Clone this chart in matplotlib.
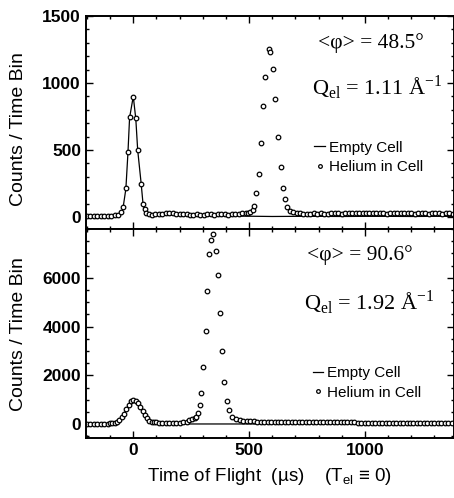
import matplotlib
matplotlib.use("Agg")
import matplotlib.pyplot as plt
from matplotlib.ticker import MultipleLocator

plt.rcParams['font.family'] = ['Liberation Sans', 'DejaVu Sans']
plt.rcParams['mathtext.fontset'] = 'custom'
plt.rcParams['mathtext.rm'] = 'Liberation Serif'
plt.rcParams['mathtext.sf'] = 'Liberation Sans'

# ---- data: top panel, <phi> = 48.5 deg ----
top_empty_t = [-200, -180, -160, -140, -120, -100, -80, -60, -50, -44, -32, -23, -16, 0, 11, 19, 34, 42, 49, 56, 66,
               80, 120, 160, 200, 300, 400, 500, 600, 700, 800, 900, 1000, 1100, 1200, 1300, 1385]
top_empty_c = [5, 6, 5, 6, 5, 6, 8, 15, 30, 70, 210, 480, 740, 900, 730, 500, 250, 100, 50, 25, 15,
               10, 12, 14, 10, 8, 7, 6, 4, 5, 5, 4, 5, 5, 4, 5, 5]

top_he_t = [-200, -185, -170, -155, -140, -125, -110, -95, -80, -65, -55, -44, -32, -23, -16, 0, 11, 19, 34, 42, 49, 56, 66,
            80, 95, 110, 125, 140, 155, 170, 185, 200, 215, 230, 245, 260, 275, 290, 305, 320, 335, 350, 365, 380,
            395, 410, 425, 440, 455, 470, 485, 495, 504, 515, 523, 530, 541, 552, 562, 570, 585, 592, 604, 612,
            625, 636, 645, 654, 664, 677, 690, 705, 720, 735, 750, 765, 780, 795, 810, 825, 840, 855, 870, 885,
            900, 915, 930, 945, 960, 975, 990, 1005, 1020, 1035, 1050, 1065, 1080, 1095, 1110, 1125, 1140, 1155,
            1170, 1185, 1200, 1215, 1230, 1245, 1260, 1275, 1290, 1305, 1320, 1335, 1350, 1365, 1380]
top_he_c = [8, 9, 7, 8, 9, 8, 10, 9, 12, 18, 35, 77, 214, 487, 744, 895, 735, 500, 250, 100, 57, 30, 22,
            18, 20, 22, 25, 30, 33, 30, 26, 22, 20, 19, 18, 17, 20, 18, 16, 20, 22, 18, 20, 22,
            20, 18, 22, 25, 24, 28, 30, 32, 40, 55, 82, 177, 321, 550, 831, 1042, 1250, 1230, 1102, 878,
            600, 375, 214, 132, 77, 47, 35, 30, 28, 25, 26, 24, 27, 25, 28, 26, 25, 30, 27, 28,
            26, 30, 28, 27, 32, 29, 30, 28, 31, 29, 27, 30, 28, 26, 29, 27, 28, 30,
            28, 27, 29, 26, 28, 30, 27, 26, 28, 29, 27, 26, 28, 27, 26]

# ---- data: bottom panel, <phi> = 90.6 deg ----
bot_empty_t = [-200, -150, -110, -90, -80, -70, -60, -50, -40, -30, -20, -10, 0, 10, 20, 30, 40, 50, 60, 70, 80, 90, 100,
               130, 200, 300, 400, 500, 600, 700, 800, 900, 1000, 1100, 1200, 1300, 1385]
bot_empty_c = [10, 10, 15, 35, 55, 95, 165, 275, 425, 610, 790, 910, 960, 930, 830, 680, 510, 350, 230, 140, 85, 55, 35,
               20, 10, 10, 10, 10, 10, 10, 10, 10, 10, 10, 10, 10, 10]

bot_he_t = [-200, -185, -170, -155, -140, -125, -110, -100, -90, -80, -70, -60, -50, -40, -30, -20, -10, 0, 10, 20, 30,
            40, 50, 60, 70, 80, 90, 100, 112, 125, 140, 155, 170, 185, 200, 215, 230, 242, 255, 265, 272, 280, 288,
            294, 302, 312, 320, 328, 336, 344, 356, 366, 374, 382, 392, 404, 414, 428, 445, 460, 475, 490, 505,
            520, 535, 550, 565, 580, 595, 610, 625, 640, 655, 670, 685, 700, 715, 730, 745, 760, 775, 790, 805,
            820, 835, 850, 865, 880, 895, 910, 925, 940, 955, 970, 985, 1000, 1015, 1030, 1045, 1060, 1075, 1090,
            1105, 1120, 1135, 1150, 1165, 1180, 1195, 1210, 1225, 1240, 1255, 1270, 1285, 1300, 1315, 1330, 1345,
            1360, 1375]
bot_he_c = [20, 22, 20, 24, 22, 25, 28, 32, 45, 65, 105, 175, 285, 435, 625, 805, 935, 990, 950, 850, 700,
            530, 370, 240, 150, 105, 85, 75, 70, 65, 62, 60, 62, 65, 70, 80, 100, 160, 220, 260, 300, 450, 800,
            1260, 2350, 3830, 5450, 6980, 7550, 7800, 7100, 6120, 4570, 3010, 1740, 950, 575, 300, 200, 160, 140,
            130, 120, 115, 110, 108, 105, 104, 100, 100, 98, 96, 95, 94, 92, 90, 90, 88, 86, 85, 85, 84, 82,
            80, 80, 78, 78, 76, 75, 75, 74, 72, 72, 70, 70, 68, 68, 67, 66, 65, 65, 64, 63, 62, 62, 61,
            60, 60, 59, 58, 58, 57, 57, 56, 55, 55, 54, 54, 53, 52, 52]

panels = [
    dict(et=top_empty_t, ec=top_empty_c, ht=top_he_t, hc=top_he_c, ylim=(-90, 1500),
         yticks=[0, 500, 1000, 1500], yminor=100, phi="<\u03c6> = 48.5\u00b0", q="1.11"),
    dict(et=bot_empty_t, ec=bot_empty_c, ht=bot_he_t, hc=bot_he_c, ylim=(-575, 8000),
         yticks=[0, 2000, 4000, 6000], yminor=500, phi="<\u03c6> = 90.6\u00b0", q="1.92"),
]

fig = plt.figure(figsize=(4.54, 4.98), dpi=100)
ax_top = fig.add_axes([0.189, 0.540, 0.811, 0.428])
ax_bot = fig.add_axes([0.189, 0.120, 0.811, 0.420], sharex=ax_top)

# text layout per panel: (phi x, phi y, q x, q y, legend x, legend y)
text_pos = [(0.775, 0.873, 0.792, 0.662, 0.60, 0.45),
            (0.745, 0.876, 0.770, 0.646, 0.595, 0.38)]

for ax, p, tp in zip([ax_top, ax_bot], panels, text_pos):
    ax.plot(p['et'], p['ec'], color='black', lw=0.9, label='Empty Cell')
    ax.plot(p['ht'], p['hc'], ls='none', marker='o', ms=3.3, mfc='white', mec='black', mew=0.9,
            label='Helium in Cell')
    ax.set_xlim(-205, 1385)
    ax.set_ylim(*p['ylim'])
    ax.set_yticks(p['yticks'])
    ax.yaxis.set_minor_locator(MultipleLocator(p['yminor']))
    ax.xaxis.set_major_locator(MultipleLocator(500))
    ax.xaxis.set_minor_locator(MultipleLocator(100))
    ax.tick_params(which='both', direction='in', top=True, right=True, width=1.0)
    ax.tick_params(which='major', length=5, labelsize=12.5)
    ax.tick_params(which='minor', length=2.5)
    for lab in ax.get_yticklabels():
        lab.set_fontweight('bold')
    for s in ax.spines.values():
        s.set_linewidth(1.4)
    ax.set_ylabel("Counts / Time Bin", fontsize=14, labelpad=4)
    ax.text(tp[0], tp[1], p['phi'], transform=ax.transAxes, ha='center', va='center',
            fontsize=15.5, family=['Liberation Serif', 'DejaVu Serif'])
    ax.text(tp[2], tp[3], r"Q$_{\mathrm{el}}$ = " + p['q'] + r" Å$^{\mathrm{-1}}$", transform=ax.transAxes,
            ha='center', va='center', fontsize=16, family=['Liberation Serif', 'DejaVu Serif'])
    ax.legend(loc='upper left', bbox_to_anchor=(tp[4], tp[5]), frameon=False, fontsize=11,
              handlelength=0.7, handletextpad=0.25, labelspacing=0.35, markerscale=0.8, borderpad=0)

plt.setp(ax_top.get_xticklabels(), visible=False)
for lab in ax_bot.get_xticklabels():
    lab.set_fontweight('bold')
ax_bot.set_xlabel("Time of Flight  (\u00b5s)    (T$_{\\mathsf{el}}$ \u2261 0)", fontsize=13.5, labelpad=6)
ax_top.yaxis.set_label_coords(-0.16, 0.47)
ax_bot.yaxis.set_label_coords(-0.16, 0.5)

fig.savefig("out.png", dpi=100)
